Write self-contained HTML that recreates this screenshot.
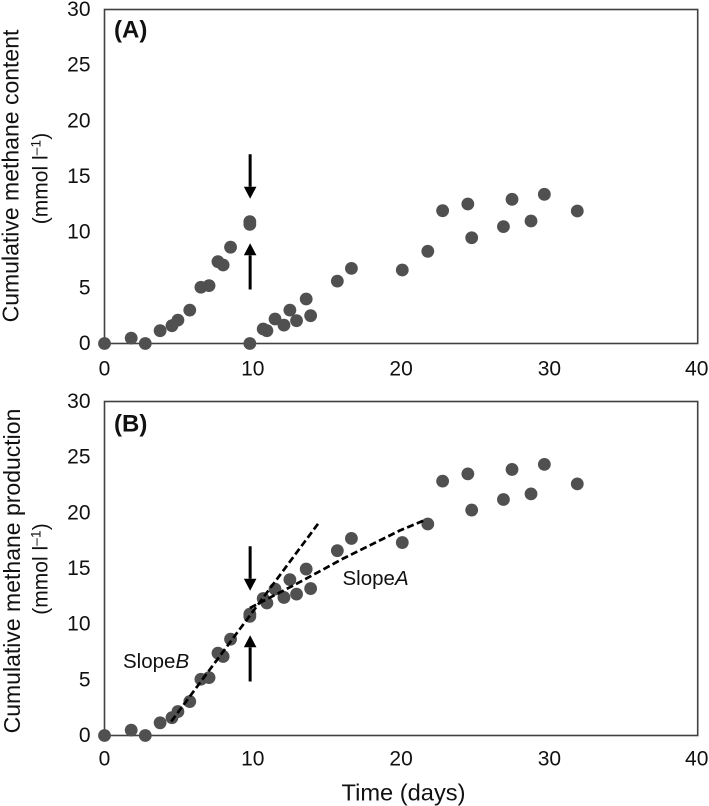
<!DOCTYPE html>
<html lang="en">
<head>
<meta charset="utf-8">
<title>Cumulative methane content and production</title>
<style>
html,body{margin:0;padding:0;background:#fff;}
svg{display:block;}
text{font-family:"Liberation Sans",sans-serif;fill:#111;}
.tick{font-size:21px;}
.title{font-size:23px;}
.sub{font-size:21px;}
.panel{font-size:24px;font-weight:bold;}
.note{font-size:20.5px;}
#content{filter:blur(0.3px);}
</style>
</head>
<body>
<svg id="chart" xmlns="http://www.w3.org/2000/svg" width="709" height="806" viewBox="0 0 709 806">
  <rect width="709" height="806" fill="#fff"/>
  <g id="content">
  <g id="panel-a"></g>
  <g id="panel-b"></g>

  <text class="panel" x="114" y="37.5">(A)</text>
  <text class="panel" x="114" y="431.5">(B)</text>

  <text class="title" text-anchor="middle" transform="translate(18.5,176) rotate(-90)">Cumulative methane content</text>
  <text class="sub" text-anchor="middle" transform="translate(47.5,178.5) rotate(-90)">(mmol l<tspan font-size="14" dy="-7">–1</tspan><tspan dy="7">)</tspan></text>
  <text class="title" text-anchor="middle" transform="translate(20,571) rotate(-90)">Cumulative methane production</text>
  <text class="sub" text-anchor="middle" transform="translate(47.5,569) rotate(-90)">(mmol l<tspan font-size="14" dy="-7">–1</tspan><tspan dy="7">)</tspan></text>

  <text class="title" x="341.5" y="800.5" textLength="124" lengthAdjust="spacingAndGlyphs">Time (days)</text>

  <text class="note" x="123" y="668">Slope<tspan font-style="italic">B</tspan></text>
  <text class="note" x="342.5" y="585">Slope<tspan font-style="italic">A</tspan></text>
  </g>
</svg>
<script>
const xTickLabels = [0, 10, 20, 30, 40];
const yTickLabels = [0, 5, 10, 15, 20, 25, 30];

const daysA = [0, 1.8, 2.75, 3.75, 4.55, 4.95, 5.75, 6.5, 7.05, 7.65, 8.0, 8.5, 9.8, 9.8, 9.8, 10.7, 10.95, 11.5, 12.1, 12.5, 12.95, 13.6, 13.9, 15.7, 16.65, 20.08, 21.8, 22.8, 24.5, 24.76, 26.9, 27.48, 28.76, 29.66, 31.88];
const contentA = [0, 0.48, 0, 1.15, 1.6, 2.1, 3.0, 5.05, 5.2, 7.35, 7.05, 8.65, 10.95, 10.7, 0, 1.3, 1.15, 2.2, 1.65, 3.0, 2.05, 4.0, 2.5, 5.6, 6.75, 6.6, 8.28, 11.93, 12.53, 9.5, 10.5, 12.95, 11.0, 13.4, 11.9];

const daysB = [0, 1.8, 2.75, 3.75, 4.55, 4.95, 5.75, 6.5, 7.05, 7.65, 8.0, 8.5, 9.8, 9.8, 10.7, 10.95, 11.5, 12.1, 12.5, 12.95, 13.6, 13.9, 15.7, 16.65, 20.08, 21.8, 22.8, 24.5, 24.76, 26.9, 27.48, 28.76, 29.66, 31.88];
const productionB = [0, 0.48, 0, 1.14, 1.6, 2.15, 3.05, 5.05, 5.2, 7.4, 7.1, 8.65, 10.9, 10.7, 12.3, 11.9, 13.15, 12.4, 14.0, 12.7, 14.95, 13.2, 16.6, 17.7, 17.33, 19.0, 22.85, 23.5, 20.25, 21.2, 23.9, 21.7, 24.35, 22.6];

const slopeBDays = [4.5, 14.5];
const slopeBValues = [1.26, 19.2];
const slopeADays = [9.8, 13.2, 16.1, 19.9, 21.7];
const slopeAValues = [11.45, 13.8, 15.9, 18.4, 19.4];

const arrowDay = 9.8;
const arrowsADownValues = [17.0, 13.0];
const arrowsAUpValues = [4.85, 9.0];
const arrowsBDownValues = [17.0, 13.0];
const arrowsBUpValues = [4.85, 9.0];

const SVG_NS = 'http://www.w3.org/2000/svg';
const xScale = function (d) { return 104.5 + d * (697.7 - 104.5) / 40; };
const yScaleA = function (v) { return 343.5 - v * (343.5 - 9.5) / 30; };
const yScaleB = function (v) { return 735.5 - v * (735.5 - 401.5) / 30; };

function make(parent, tag, attrs) {
  const el = document.createElementNS(SVG_NS, tag);
  Object.keys(attrs).forEach(function (k) { el.setAttribute(k, attrs[k]); });
  parent.appendChild(el);
  return el;
}

function drawFrame(g, yScale, xLabelOffset) {
  const frame = make(g, 'rect', {
    x: xScale(0), y: yScale(30),
    width: xScale(40) - xScale(0), height: yScale(0) - yScale(30),
    fill: 'none', stroke: '#404040', 'stroke-width': 1.6
  });
  
  
  xTickLabels.forEach(function (t) {
    const label = make(g, 'text', { class: 'tick', 'text-anchor': 'middle', x: xScale(t) + (t === 40 ? -1 : 0), y: yScale(0) + xLabelOffset });
    
    
    label.textContent = t;
  });
  yTickLabels.forEach(function (t) {
    const label = make(g, 'text', { class: 'tick', 'text-anchor': 'end', x: 90.5, y: yScale(t) + 6.5 });
    
    
    label.textContent = t;
  });
}

function drawPoints(g, xs, ys, yScale) {
  xs.forEach(function (d, i) {
    const dot = make(g, 'circle', { cx: xScale(d), cy: yScale(ys[i]), r: 6.4, fill: '#505050' });
    
    
  });
}

function drawDashed(g, xs, ys, yScale, name) {
  const pts = xs.map(function (d, i) { return xScale(d) + ',' + yScale(ys[i]); }).join(' ');
  const line = make(g, 'polyline', { points: pts, fill: 'none', stroke: '#000', 'stroke-width': 2.7, 'stroke-dasharray': '7 3.4' });
  
  
}

function drawArrow(g, values, yScale, name) {
  const x = xScale(arrowDay) + 0.3;
  const y0 = yScale(values[0]);
  const y1 = yScale(values[1]);
  const dir = y1 > y0 ? 1 : -1;
  const base = y1 - dir * 12;
  const arrow = make(g, 'g', {});
  
  
  make(arrow, 'line', { x1: x, y1: y0, x2: x, y2: base, stroke: '#000', 'stroke-width': 3 });
  make(arrow, 'polygon', { points: (x - 6.3) + ',' + base + ' ' + (x + 6.3) + ',' + base + ' ' + x + ',' + y1, fill: '#000' });
}

const gA = document.getElementById('panel-a');
const gB = document.getElementById('panel-b');

drawFrame(gA, yScaleA, 32);
drawPoints(gA, daysA, contentA, yScaleA);
drawArrow(gA, arrowsADownValues, yScaleA, 'down-arrow-a');
drawArrow(gA, arrowsAUpValues, yScaleA, 'up-arrow-a');

drawFrame(gB, yScaleB, 30);
drawPoints(gB, daysB, productionB, yScaleB);
drawDashed(gB, slopeBDays, slopeBValues, yScaleB, 'slope-b-line');
drawDashed(gB, slopeADays, slopeAValues, yScaleB, 'slope-a-line');
drawArrow(gB, arrowsBDownValues, yScaleB, 'down-arrow-b');
drawArrow(gB, arrowsBUpValues, yScaleB, 'up-arrow-b');
</script>
</body>
</html>
